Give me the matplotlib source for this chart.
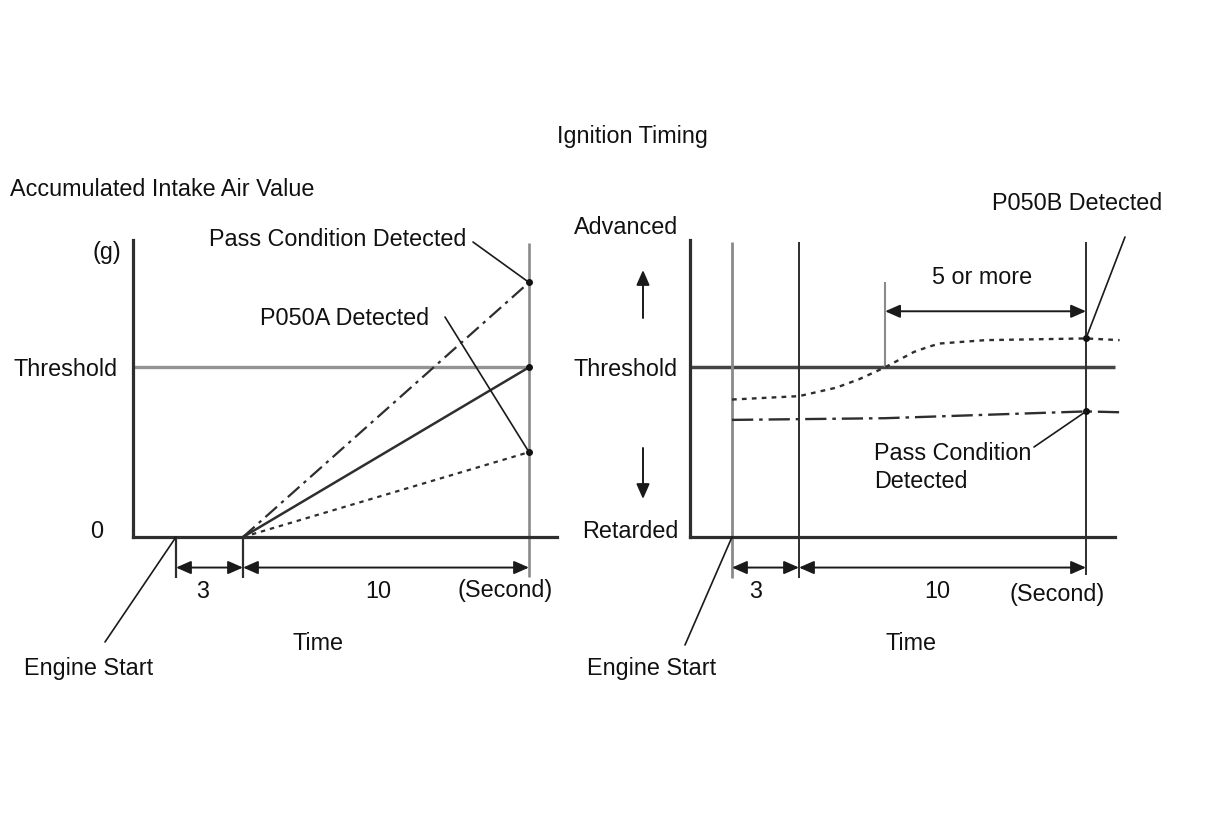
import numpy as np
import matplotlib
matplotlib.use("Agg")
import matplotlib.pyplot as plt

plt.rcParams['font.family'] = ['Liberation Sans', 'DejaVu Sans']

W, H = 1210, 814
FS = 16.8
DARK = '#2e2e2e'
GREY = '#8a8a8a'

# left panel: accumulated intake air, threshold = 1
air_threshold = 1.0
air_t = [3, 13]
air_pass = [0, 1.5]      # dash-dot, pass condition
air_limit = [0, 1.0]     # solid, reaches threshold
air_fail = [0, 0.5]      # dotted, P050A
# right panel: ignition timing, retarded = 0, threshold = 1
ign_threshold = 1.0
ign_fail_t = [0, 3, 4.3, 5.1, 6.0, 7.0, 7.5, 7.9, 9.5, 13, 14.2]
ign_fail = [0.81, 0.83, 0.88, 0.93, 1.0, 1.09, 1.12, 1.14, 1.16, 1.17, 1.16]
ign_pass_t = [0, 6.0, 9.5, 13, 14.2]
ign_pass = [0.69, 0.70, 0.72, 0.74, 0.735]
# time marks (s)
t_start, t_wait, t_judge, t_over = 0, 3, 13, 6.0

# the diagram is not to scale: piecewise time axis
left_knots = ([-2, 0, 3, 13, 14], [133, 176, 243, 529, 557])
right_knots = ([-2, 0, 3, 13, 14.25], [690, 732, 799, 1086, 1121])


def P(x, y):
    return (x / W, 1 - y / H)


def ftext(x, y, s, ha='center', **kw):
    # small downward nudge so the glyphs sit like the reference
    fig.text(*P(x, y + 2), s, ha=ha, va='center', fontsize=FS, color='#111', **kw)


def leader(ax, xy, start):
    ax.annotate('', xy=xy, xytext=P(*start), textcoords='figure fraction',
                annotation_clip=False,
                arrowprops=dict(arrowstyle='-', lw=1.2, color='#1a1a1a',
                                shrinkA=0, shrinkB=0))


def dim_arrow(ax, x0, x1, y):
    ax.annotate('', xy=(x1, y), xytext=(x0, y), annotation_clip=False,
                arrowprops=dict(arrowstyle='<|-|>,head_length=0.5,head_width=0.22',
                                mutation_scale=18, lw=1.4, color='#1a1a1a',
                                shrinkA=0, shrinkB=0))


def setup(ax, knots, xmax):
    kt, kp = knots
    ax.set_xscale('function', functions=(lambda t: np.interp(t, kt, kp),
                                         lambda p: np.interp(p, kp, kt)))
    ax.set_xlim(-2, xmax)
    ax.set_ylim(0, 1.75)
    for s in ['top', 'right']:
        ax.spines[s].set_visible(False)
    for s in ['left', 'bottom']:
        ax.spines[s].set_color(DARK)
        ax.spines[s].set_linewidth(2.3)
    ax.set_xticks([])
    ax.set_yticks([])
    ax.patch.set_alpha(0)


fig = plt.figure(figsize=(W / 100, H / 100), dpi=100)
fig.patch.set_facecolor('white')

y_bot = -0.242   # ticks below axis
y_dim = -0.18    # dimension arrows

# ---------------- left panel ----------------
axl = fig.add_axes([133 / W, (814 - 537) / H, (557 - 133) / W, 297 / H])
setup(axl, left_knots, 14)
axl.hlines(air_threshold, -2, t_judge, color='#939393', lw=2.4)
axl.vlines(t_judge, y_bot + 0.005, 1.73, color=GREY, lw=1.9, clip_on=False)
axl.vlines([t_start, t_wait], y_bot, 0, color=DARK, lw=1.6, clip_on=False)
axl.plot(air_t, air_pass, color=DARK, lw=1.6, dashes=(7, 2.5, 1.5, 2.5))
axl.plot(air_t, air_limit, color=DARK, lw=1.8)
axl.plot(air_t, air_fail, color=DARK, lw=1.6, dashes=(2, 2.2))
axl.plot([t_judge] * 3, [air_pass[-1], air_limit[-1], air_fail[-1]], 'o',
         color='#111', ms=4)
dim_arrow(axl, t_start, t_wait, y_dim)
dim_arrow(axl, t_wait, t_judge, y_dim)
leader(axl, (t_judge, air_pass[-1]), (473, 242))
leader(axl, (t_judge, air_fail[-1]), (445, 317))
leader(axl, (t_start, 0), (105, 642))

ftext(10, 188, 'Accumulated Intake Air Value', ha='left')
ftext(121, 250, '(g)', ha='right')
ftext(13, 367, 'Threshold', ha='left')
ftext(103, 530, '0', ha='right')
ftext(338, 238, 'Pass Condition Detected')
ftext(345, 316, 'P050A Detected')
ftext(203, 589, '3')
ftext(378, 589, '10')
ftext(505, 589, '(Second)')
ftext(318, 641, 'Time')
ftext(89, 666, 'Engine Start')

# ---------------- right panel ----------------
axr = fig.add_axes([690 / W, (814 - 537) / H, (1121 - 690) / W, 297 / H])
setup(axr, right_knots, 14.25)
axr.hlines(ign_threshold, -2, 14.05, color='#444', lw=2.5)
axr.spines['bottom'].set_bounds(-2, 14.05)
axr.vlines(t_start, y_bot, 1.738, color=GREY, lw=2.0, clip_on=False)
axr.vlines(t_wait, y_bot, 1.738, color=DARK, lw=1.4, clip_on=False)
axr.vlines(t_judge, y_bot + 0.02, 1.738, color=DARK, lw=1.4, clip_on=False)
axr.vlines(t_over, ign_threshold, 1.50, color=GREY, lw=1.5)
axr.plot(ign_fail_t, ign_fail, color=DARK, lw=1.7, dashes=(2, 2.2))
axr.plot(ign_pass_t, ign_pass, color=DARK, lw=1.7, dashes=(9, 2.5, 1.5, 2.5))
axr.plot([t_judge] * 2, [np.interp(t_judge, ign_fail_t, ign_fail),
                         np.interp(t_judge, ign_pass_t, ign_pass)], 'o',
         color='#111', ms=4)
dim_arrow(axr, t_start, t_wait, y_dim)
dim_arrow(axr, t_wait, t_judge, y_dim)
dim_arrow(axr, t_over, t_judge, 1.33)
leader(axr, (t_judge, np.interp(t_judge, ign_fail_t, ign_fail)), (1125, 237))
leader(axr, (t_judge, np.interp(t_judge, ign_pass_t, ign_pass)), (1034, 447))
leader(axr, (t_start, 0), (685, 645))

for y0, y1 in [(318, 270), (448, 499)]:
    fig.add_artist(matplotlib.patches.FancyArrowPatch(
        P(643, y0), P(643, y1), transform=fig.transFigure,
        arrowstyle='-|>,head_length=0.5,head_width=0.22', mutation_scale=18,
        lw=1.4, color='#1a1a1a', shrinkA=0, shrinkB=0))

ftext(632, 135, 'Ignition Timing')
ftext(678, 226, 'Advanced', ha='right')
ftext(678, 367, 'Threshold', ha='right')
ftext(678, 530, 'Retarded', ha='right')
ftext(1077, 201, 'P050B Detected')
ftext(982, 276, '5 or more')
ftext(874, 451, 'Pass Condition', ha='left')
ftext(874, 479, 'Detected', ha='left')
ftext(756, 589, '3')
ftext(937, 589, '10')
ftext(1057, 593, '(Second)')
ftext(911, 641, 'Time')
ftext(652, 666, 'Engine Start')

fig.savefig('out.png', dpi=100, facecolor='white')
